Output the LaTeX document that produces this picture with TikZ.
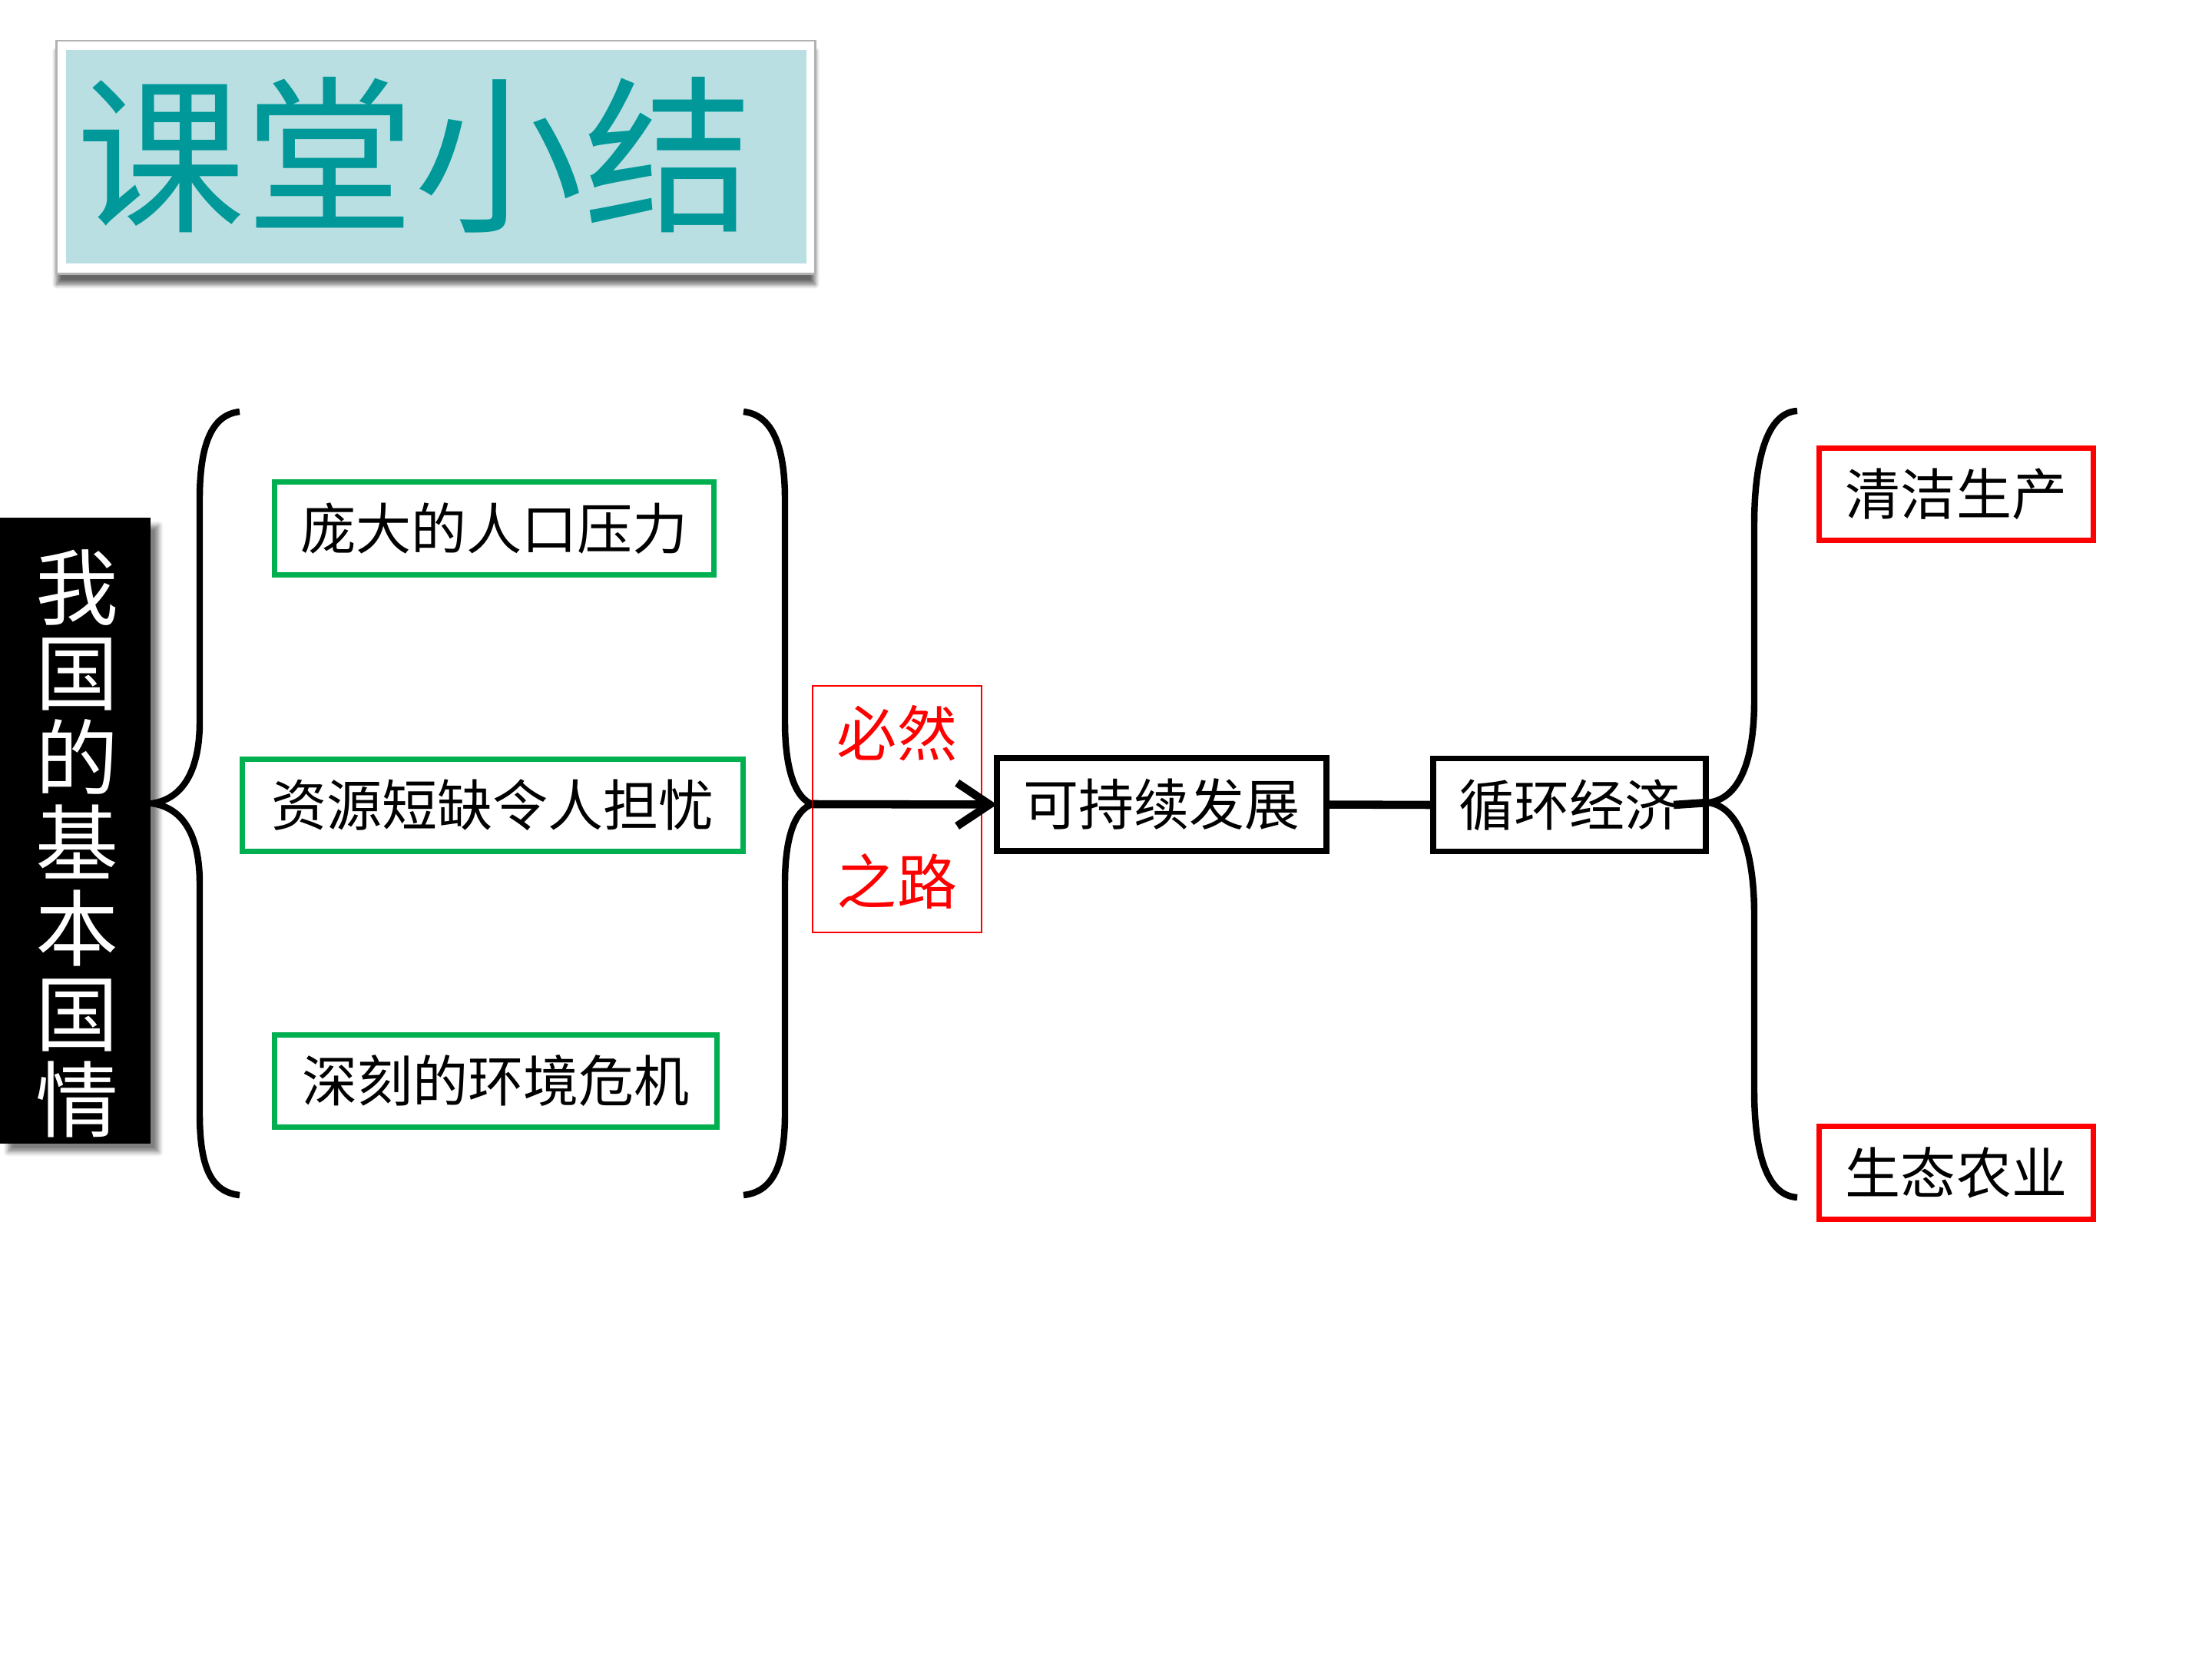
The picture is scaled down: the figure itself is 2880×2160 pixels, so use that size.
\documentclass[tikz,border=0pt]{standalone}
\usepackage{fontspec}
\newfontfamily\cjk{Noto Sans CJK SC}
\usetikzlibrary{arrows.meta,shadows.blur}
\definecolor{tealt}{RGB}{0,152,152}
\definecolor{lblue}{RGB}{185,223,226}
\definecolor{gbox}{RGB}{0,176,80}
\definecolor{rbox}{RGB}{255,0,0}
\begin{document}
\begin{tikzpicture}[x=0.01cm,y=-0.01cm,
  every node/.style={inner sep=0pt,outer sep=0pt,font=\cjk},
  txt/.style={font=\cjk\fontsize{20.5}{24}\selectfont},
  gbx/.style={txt,draw=gbox,line width=2pt,minimum height=1.2cm},
  rbx/.style={txt,draw=rbox,line width=2pt,minimum height=1.2cm},
  kbx/.style={txt,draw=black,line width=2.1pt,minimum height=1.21cm},
  bracepath/.style={line width=2.4pt},
  conn/.style={line width=3pt}]
\useasboundingbox (0,0) rectangle (2880,2160);
% title
\node[draw=black!30,line width=0.8pt,fill=white,minimum width=9.87cm,minimum height=3.03cm,
  blur shadow={shadow xshift=0pt,shadow yshift=-4pt,shadow blur steps=6,shadow opacity=60}] (titleframe) at (567.5,204.5) {};
\node[fill=lblue,minimum width=9.64cm,minimum height=2.78cm] (titlebg) at (568,204) {};
\node[font=\cjk\fontsize{62.6}{70}\selectfont,text=tealt] (title) at (540,202) {课堂小结};
% left black box
\node[fill=black,minimum width=1.96cm,minimum height=8.15cm,
  blur shadow={shadow xshift=3pt,shadow yshift=-3pt,shadow blur steps=5,shadow opacity=50}] (kbox) at (98,1081.5) {};
\node[text=white,align=center,font=\cjk\fontsize{30.7}{31.6}\selectfont] (ktext) at (100,1098)
  {我\\国\\的\\基\\本\\国\\情};
% green boxes
\node[gbx,minimum width=5.71cm] (g1) at (643.5,688) {庞大的人口压力};
\node[gbx,minimum width=6.51cm] (g2) at (641.5,1048.5) {资源短缺令人担忧};
\node[gbx,minimum width=5.75cm] (g3) at (645.5,1407.5) {深刻的环境危机};
% braces
\coordinate (tip1) at (198,1046);
\coordinate (tip2) at (1058,1047);
\coordinate (tip3) at (2224,1045);
\draw[bracepath] (312,536) .. controls (275,540) and (260,580) .. (260,650) -- (260,940)
  .. controls (260,1000) and (240,1040) .. (tip1)
  .. controls (240,1052) and (260,1090) .. (260,1150) -- (260,1450)
  .. controls (260,1520) and (275,1552) .. (312,1556);
\draw[bracepath] (968,536) .. controls (1005,540) and (1022,580) .. (1022,650) -- (1022,940)
  .. controls (1022,1000) and (1035,1040) .. (tip2)
  .. controls (1035,1054) and (1022,1090) .. (1022,1150) -- (1022,1450)
  .. controls (1022,1520) and (1005,1552) .. (968,1556);
\draw[bracepath] (2340,535) .. controls (2300,537) and (2284,600) .. (2284,684) -- (2284,912)
  .. controls (2284,990) and (2265,1040) .. (tip3)
  .. controls (2265,1050) and (2284,1110) .. (2284,1191) -- (2284,1419)
  .. controls (2284,1500) and (2300,1557) .. (2340,1559);
% red thin box
\node[draw=rbox,line width=0.7pt,minimum width=2.20cm,minimum height=3.21cm] (way) at (1168,1053.5) {};
\node[text=rbox,font=\cjk\fontsize{22.2}{26}\selectfont] (bir) at (1168,955) {必然};
\node[text=rbox,font=\cjk\fontsize{22.2}{26}\selectfont] (zhl) at (1168,1148) {之路};
% black boxes
\node[kbx,minimum width=4.29cm] (kc) at (1512.5,1047.5) {可持续发展};
\node[kbx,minimum width=3.55cm] (xh) at (2043.5,1048) {循环经济};
% red boxes
\node[rbx,minimum width=3.56cm] (qj) at (2547,643.5) {清洁生产};
\node[rbx,minimum width=3.56cm] (st) at (2547,1527) {生态农业};
% connectors
\draw[conn,-{Straight Barb[length=12pt,width=16pt,line width=3pt]}] (tip2) -- (kc.west);
\draw[conn] (kc.east) -- (xh.west);
\draw[conn] ([xshift=-0.42cm]xh.east) -- (tip3);
\end{tikzpicture}
\end{document}
